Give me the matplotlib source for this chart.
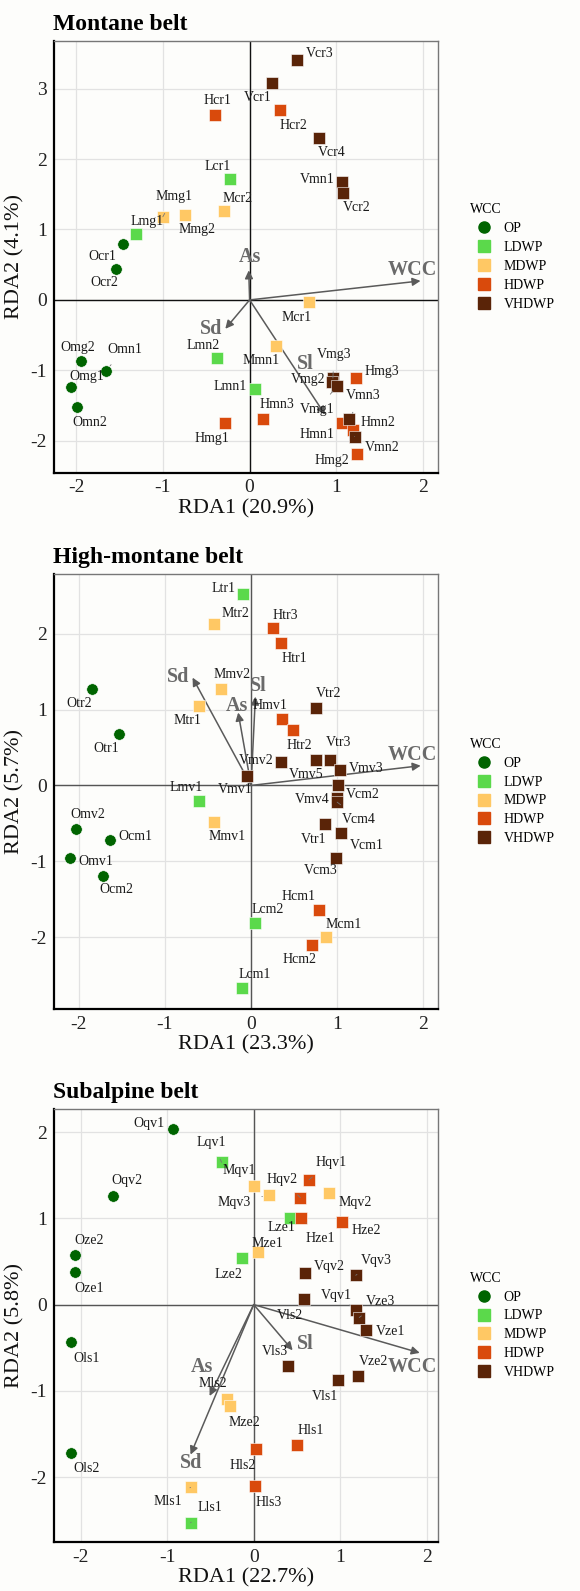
import matplotlib
matplotlib.use('Agg')
import matplotlib.pyplot as plt
from matplotlib.lines import Line2D

plt.rcParams['font.family'] = ['Liberation Serif', 'DejaVu Serif']

# groups and colours
groups = ['OP', 'LDWP', 'MDWP', 'HDWP', 'VHDWP']
group_colors = ['#006400', '#5BD94B', '#FFC864', '#D94A0C', '#5A2408']
group_of_prefix = {'O': 'OP', 'L': 'LDWP', 'M': 'MDWP', 'H': 'HDWP', 'V': 'VHDWP'}
env_vars = ['WCC', 'As', 'Sd', 'Sl']

# ---- Montane belt ----
mon_sites = ['Vcr3', 'Vcr1', 'Hcr1', 'Hcr2', 'Vcr4', 'Lcr1', 'Vmn1', 'Vcr2', 'Mmg1', 'Mmg2',
             'Mcr2', 'Lmg1', 'Ocr1', 'Ocr2', 'Mcr1', 'Mmn1', 'Lmn2', 'Lmn1', 'Hmn3', 'Hmg1',
             'Omg2', 'Omn1', 'Omg1', 'Omn2', 'Vmg3', 'Vmg2', 'Vmg1', 'Hmg3', 'Vmn3', 'Hmn1',
             'Hmn2', 'Vmn2', 'Hmg2']
mon_x = [0.55, 0.26, -0.40, 0.35, 0.80, -0.23, 1.07, 1.08, -1.00, -0.75,
         -0.29, -1.31, -1.46, -1.54, 0.68, 0.30, -0.38, 0.06, 0.16, -0.28,
         -1.94, -1.66, -2.06, -1.99, 0.96, 0.95, 1.01, 1.23, 1.14, 1.06,
         1.19, 1.21, 1.24]
mon_y = [3.41, 3.08, 2.63, 2.70, 2.30, 1.71, 1.68, 1.52, 1.18, 1.20,
         1.26, 0.94, 0.80, 0.44, -0.03, -0.65, -0.83, -1.27, -1.69, -1.75,
         -0.86, -1.01, -1.23, -1.52, -1.11, -1.16, -1.22, -1.11, -1.69, -1.74,
         -1.85, -1.94, -2.18]
mon_vx = [1.97, -0.01, -0.28, 0.87]
mon_vy = [0.27, 0.42, -0.41, -1.63]

# ---- High-montane belt ----
hig_sites = ['Ltr1', 'Mtr2', 'Htr3', 'Htr1', 'Otr2', 'Otr1', 'Mmv2', 'Mtr1', 'Vtr2', 'Hmv1',
             'Htr2', 'Vmv2', 'Vmv5', 'Vtr3', 'Vmv3', 'Vmv1', 'Vcm2', 'Vmv4', 'Vcm4', 'Vtr1',
             'Vcm1', 'Vcm3', 'Hcm1', 'Lcm2', 'Mcm1', 'Hcm2', 'Lcm1', 'Mmv1', 'Lmv1', 'Omv2',
             'Ocm1', 'Omv1', 'Ocm2']
hig_x = [-0.09, -0.43, 0.25, 0.35, -1.85, -1.54, -0.35, -0.60, 0.75, 0.36,
         0.49, 0.35, 0.75, 0.92, 1.03, -0.05, 1.01, 1.00, 1.00, 0.86,
         1.04, 0.99, 0.79, 0.05, 0.87, 0.71, -0.11, -0.43, -0.61, -2.03,
         -1.64, -2.10, -1.72]
hig_y = [2.52, 2.13, 2.07, 1.87, 1.27, 0.68, 1.27, 1.04, 1.02, 0.87,
         0.73, 0.31, 0.34, 0.33, 0.20, 0.13, 0.00, -0.17, -0.22, -0.51,
         -0.63, -0.95, -1.64, -1.81, -2.00, -2.10, -2.67, -0.48, -0.20, -0.57,
         -0.72, -0.96, -1.19]
hig_vx = [1.97, -0.15, -0.68, 0.05]
hig_vy = [0.26, 0.96, 1.42, 1.17]

# ---- Subalpine belt ----
sub_sites = ['Oqv1', 'Lqv1', 'Mqv1', 'Hqv1', 'Oqv2', 'Mqv3', 'Hqv2', 'Mqv2', 'Lze1', 'Hze1',
             'Hze2', 'Oze2', 'Oze1', 'Mze1', 'Lze2', 'Vqv2', 'Vqv3', 'Vls2', 'Vqv1', 'Vze3',
             'Vze1', 'Ols1', 'Vls3', 'Vze2', 'Vls1', 'Mls2', 'Mze2', 'Hls1', 'Hls2', 'Ols2',
             'Hls3', 'Mls1', 'Lls1']
sub_x = [-0.93, -0.37, 0.00, 0.64, -1.63, 0.18, 0.54, 0.87, 0.42, 0.55,
         1.02, -2.07, -2.07, 0.05, -0.14, 0.59, 1.18, 0.58, 1.18, 1.22,
         1.30, -2.11, 0.40, 1.21, 0.97, -0.31, -0.27, 0.50, 0.03, -2.11,
         0.01, -0.73, -0.73]
sub_y = [2.04, 1.65, 1.38, 1.45, 1.26, 1.27, 1.24, 1.29, 1.01, 1.01,
         0.96, 0.58, 0.38, 0.61, 0.54, 0.37, 0.34, 0.07, -0.06, -0.15,
         -0.29, -0.43, -0.71, -0.83, -0.88, -1.09, -1.18, -1.63, -1.68, -1.72,
         -2.10, -2.12, -2.53]
sub_vx = [1.92, -0.51, -0.73, 0.45]
sub_vy = [-0.56, -1.06, -1.74, -0.53]

# label offsets in pixels (dx, dy, leader line)
mon_lab = {'Vcr3': (22, 6, 0), 'Vcr1': (-14, -15, 0), 'Hcr1': (3, 14, 0), 'Hcr2': (13, -16, 0),
           'Vcr4': (13, -15, 0), 'Lcr1': (-12, 13, 0), 'Vmn1': (-25, 2, 0), 'Vcr2': (13, -15, 0),
           'Mmg1': (11, 20, 1), 'Mmg2': (13, -14, 0), 'Mcr2': (13, 13, 0), 'Lmg1': (11, 12, 0),
           'Ocr1': (-21, -13, 0), 'Ocr2': (-12, -14, 0), 'Mcr1': (-12, -15, 0), 'Mmn1': (-15, -15, 0),
           'Lmn2': (-13, 13, 0), 'Lmn1': (-25, 3, 0), 'Hmn3': (13, 14, 0), 'Hmg1': (-13, -15, 0),
           'Omg2': (-4, 13, 0), 'Omn1': (19, 22, 1), 'Omg1': (16, 10, 0), 'Omn2': (13, -15, 0),
           'Vmg3': (1, 24, 1), 'Vmg2': (-24, 2, 0), 'Vmg1': (-20, -24, 1), 'Hmg3': (26, 7, 0),
           'Vmn3': (15, 23, 1), 'Hmn1': (-25, -12, 0), 'Hmn2': (25, 8, 0), 'Vmn2': (28, -11, 1),
           'Hmg2': (-25, -7, 0)}
hig_lab = {'Ltr1': (-20, 6, 0), 'Mtr2': (21, 10, 0), 'Htr3': (13, 13, 0), 'Htr1': (13, -15, 0),
           'Otr2': (-13, -14, 0), 'Otr1': (-12, -15, 0), 'Mmv2': (11, 15, 0), 'Mtr1': (-12, -14, 0),
           'Vtr2': (13, 14, 0), 'Hmv1': (-12, 14, 0), 'Htr2': (6, -15, 0), 'Vmv2': (-25, 1, 0),
           'Vmv5': (-9, -15, 0), 'Vtr3': (8, 18, 0), 'Vmv3': (26, 2, 0), 'Vmv1': (-12, -14, 0),
           'Vcm2': (25, -9, 0), 'Vmv4': (-25, -1, 0), 'Vcm4': (22, -17, 1), 'Vtr1': (-12, -15, 0),
           'Vcm1': (26, -12, 0), 'Vcm3': (-16, -13, 0), 'Hcm1': (-21, 13, 0), 'Lcm2': (12, 13, 0),
           'Mcm1': (18, 13, 0), 'Hcm2': (-13, -15, 0), 'Lcm1': (13, 14, 0), 'Mmv1': (13, -15, 0),
           'Lmv1': (-12, 13, 0), 'Omv2': (11, 14, 0), 'Ocm1': (25, 4, 0), 'Omv1': (26, -3, 0),
           'Ocm2': (13, -14, 0)}
sub_lab = {'Oqv1': (-24, 5, 0), 'Lqv1': (-10, 20, 1), 'Mqv1': (-14, 15, 0), 'Hqv1': (22, 17, 1),
           'Oqv2': (14, 15, 0), 'Mqv3': (-35, -7, 1), 'Hqv2': (-18, 18, 1), 'Mqv2': (26, -9, 0),
           'Lze1': (-9, -10, 0), 'Hze1': (19, -21, 1), 'Hze2': (24, -9, 0), 'Oze2': (14, 14, 0),
           'Oze1': (14, -17, 0), 'Mze1': (9, 9, 0), 'Lze2': (-13, -16, 0), 'Vqv2': (25, 6, 0),
           'Vqv3': (21, 15, 1), 'Vls2': (-14, -17, 0), 'Vqv1': (-19, 14, 1), 'Vze3': (21, 16, 1),
           'Vze1': (24, -2, 0), 'Ols1': (15, -17, 0), 'Vls3': (-13, 14, 0), 'Vze2': (15, 15, 0),
           'Vls1': (-13, -16, 0), 'Mls2': (-14, 15, 0), 'Mze2': (14, -16, 0), 'Hls1': (14, 15, 0),
           'Hls2': (-14, -16, 0), 'Ols2': (15, -16, 0), 'Hls3': (14, -17, 0), 'Mls1': (-23, -14, 1),
           'Lls1': (19, 15, 1)}
mon_vlab = [(-8, 11), (1, 13), (-14, 0), (-20, 51)]
hig_vlab = [(-8, 11), (-1, 7), (-14, 1), (3, 11)]
sub_vlab = [(-7, -14), (-8, 29), (1, -8), (13, 6)]


def draw_panel(ax, title, sites, xs, ys, vx, vy, lab, vlab, xlabel, ylabel, xlim, ylim, zero_color):
    ax.set_facecolor('#FDFDFB')
    ax.set_xlim(*xlim)
    ax.set_ylim(*ylim)
    ax.set_xticks([-2, -1, 0, 1, 2])
    ax.set_xticklabels(['-2', '-1', '0', '1', '2'])
    yt = [t for t in range(-3, 4) if ylim[0] < t < ylim[1]]
    ax.set_yticks(yt)
    ax.set_yticklabels([str(t) for t in yt])
    ax.grid(color='#E2E2E2', lw=0.9)
    ax.set_axisbelow(True)
    ax.axhline(0, color=zero_color, lw=1.0, zorder=1)
    ax.axvline(0, color=zero_color, lw=1.0, zorder=1)
    for s in ['left', 'bottom']:
        ax.spines[s].set_color('black')
        ax.spines[s].set_linewidth(1.6)
    for s in ['top', 'right']:
        ax.spines[s].set_color('#777777')
        ax.spines[s].set_linewidth(1.0)
    ax.tick_params(length=0, labelsize=14, pad=5, colors='#222222')

    # env vectors
    for i, v in enumerate(env_vars):
        ax.annotate('', xy=(vx[i], vy[i]), xytext=(0, 0),
                    arrowprops=dict(arrowstyle='-|>', color='#5A5A5A', lw=1.1,
                                    mutation_scale=12, shrinkA=0, shrinkB=0), zorder=2)
        ax.annotate(v, xy=(vx[i], vy[i]), xytext=vlab[i], textcoords='offset pixels',
                    ha='center', va='center', fontsize=14.5, fontweight='bold',
                    color='#6A6A6A', zorder=2)

    # points
    for g, c in zip(groups, group_colors):
        px = [x for s, x in zip(sites, xs) if group_of_prefix[s[0]] == g]
        py = [y for s, y in zip(sites, ys) if group_of_prefix[s[0]] == g]
        ax.scatter(px, py, s=68 if g == 'OP' else 72, marker='o' if g == 'OP' else 's',
                   color=c, edgecolors='white', linewidths=0.4, zorder=3)

    # site labels
    for s, x, y in zip(sites, xs, ys):
        dx, dy, lead = lab[s]
        props = None
        if lead:
            props = dict(arrowstyle='-', color='#777777', lw=0.6, shrinkA=6, shrinkB=5)
        ax.annotate(s, xy=(x, y), xytext=(dx, dy), textcoords='offset pixels',
                    ha='center', va='center', fontsize=10, color='#1A1A1A',
                    arrowprops=props, zorder=4)

    ax.set_xlabel(xlabel, fontsize=16, labelpad=2, color='#111111')
    ax.set_ylabel(ylabel, fontsize=16, labelpad=4, color='#111111')
    ax.set_title(title, loc='left', fontsize=17, fontweight='bold', pad=8, x=-0.003)

    handles = [Line2D([], [], marker='o' if g == 'OP' else 's', linestyle='', color=c,
                      markersize=8) for g, c in zip(groups, group_colors)]
    ax.legend(handles, groups, title='WCC', loc='center left', bbox_to_anchor=(1.07, 0.5),
              frameon=False, fontsize=10, title_fontsize=10, handletextpad=0.4,
              labelspacing=0.42, borderaxespad=0.0, alignment='left')


fig = plt.figure(figsize=(5.8, 15.91), dpi=100)
fig.patch.set_facecolor('#FDFDFB')
left, width = 0.093, 0.662
ax1 = fig.add_axes([left, 0.703, width, 0.271])
ax2 = fig.add_axes([left, 0.366, width, 0.273])
ax3 = fig.add_axes([left, 0.031, width, 0.272])

draw_panel(ax1, 'Montane belt', mon_sites, mon_x, mon_y, mon_vx, mon_vy, mon_lab, mon_vlab,
           'RDA1 (20.9%)', 'RDA2 (4.1%)', (-2.255, 2.17), (-2.45, 3.67), '#111111')
draw_panel(ax2, 'High-montane belt', hig_sites, hig_x, hig_y, hig_vx, hig_vy, hig_lab, hig_vlab,
           'RDA1 (23.3%)', 'RDA2 (5.7%)', (-2.29, 2.17), (-2.94, 2.78), '#555555')
draw_panel(ax3, 'Subalpine belt', sub_sites, sub_x, sub_y, sub_vx, sub_vy, sub_lab, sub_vlab,
           'RDA1 (22.7%)', 'RDA2 (5.8%)', (-2.31, 2.13), (-2.75, 2.27), '#555555')

fig.savefig('out.png', dpi=100, facecolor=fig.get_facecolor())
